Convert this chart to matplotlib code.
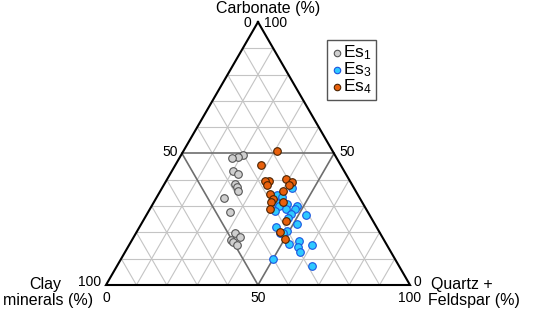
import numpy as np
import matplotlib.pyplot as plt

plt.rcParams['font.family'] = ['Liberation Sans', 'DejaVu Sans']
plt.rcParams['mathtext.fontset'] = 'custom'
plt.rcParams['mathtext.rm'] = 'Liberation Sans'
plt.rcParams['mathtext.default'] = 'regular'

# carbonate (%) and quartz + feldspar (%) for each sample, clay = rest
es1_carb = [49.4, 48.6, 48.4, 43.3, 42.2, 38.3, 37.1, 35.9, 33.1, 27.8, 19.9, 18.1, 17.1, 16.3, 15.3]
es1_qf = [20.3, 19.1, 17.3, 20.2, 22.4, 23.2, 24.4, 25.5, 22.3, 27.0, 32.5, 34.9, 32.5, 33.7, 35.5]

es3_carb = [34.1, 33.6, 37.0, 31.3, 30.0, 30.7, 30.2, 28.9, 28.9, 28.0, 27.1, 26.7, 25.6,
            23.1, 22.2, 20.4, 19.9, 19.7, 15.7, 16.6, 14.6, 15.2, 12.4, 9.9, 7.3]
es3_qf = [39.2, 41.2, 42.8, 40.6, 41.8, 44.3, 47.6, 47.7, 44.8, 41.7, 47.4, 52.6, 47.0,
          51.4, 44.8, 49.2, 47.3, 48.3, 52.2, 55.3, 56.0, 60.1, 57.6, 50.1, 64.1]

es4_carb = [50.8, 45.7, 39.7, 39.5, 37.9, 40.4, 39.2, 38.1, 34.6, 35.9, 32.8, 31.6, 31.6,
            28.8, 24.3, 20.2, 17.4]
es4_qf = [30.8, 28.0, 33.9, 32.6, 34.1, 39.0, 41.6, 41.2, 36.6, 40.2, 38.4, 38.4, 42.5,
          39.5, 47.0, 47.2, 50.3]

H3 = np.sqrt(3) / 2


def tern(carb, qf):
    carb = np.asarray(carb, dtype=float) / 100
    qf = np.asarray(qf, dtype=float) / 100
    return qf + carb / 2, carb * H3


W, H = 533, 311
fig = plt.figure(figsize=(W / 100, H / 100), dpi=100)
ax = fig.add_axes([106 / W, (H - 285) / H, 304 / W, 263 / H])
ax.set_xlim(0, 1)
ax.set_ylim(0, H3)
ax.axis('off')

# grid
for v in range(10, 100, 10):
    col, lw, z = ('#c4c4c4', 0.8, 1) if v != 50 else ('#6e6e6e', 1.2, 2)
    for a, b in [((v, 0), (v, 100 - v)), ((0, v), (100 - v, v)), ((0, 100 - v), (100 - v, 0))]:
        x, y = tern([a[0], b[0]], [a[1], b[1]])
        ax.plot(x, y, color=col, lw=lw, zorder=z)

x, y = tern([100, 0, 0, 100], [0, 0, 100, 0])
ax.plot(x, y, color='black', lw=1.5, zorder=3, clip_on=False, solid_joinstyle='miter')

kw = dict(s=30, linewidths=0.8, zorder=5, clip_on=False)
x, y = tern(es1_carb, es1_qf)
ax.scatter(x, y, c='#cfcfcf', edgecolors='#555555', label='Es$_1$', **kw)
x, y = tern(es3_carb, es3_qf)
ax.scatter(x, y, c='#2ec9ff', edgecolors='#1a55e0', label='Es$_3$', **kw)
x, y = tern(es4_carb, es4_qf)
ax.scatter(x, y, c='#e8600c', edgecolors='#4a2200', label='Es$_4$', **kw)

leg = ax.legend(loc='upper left', bbox_to_anchor=(327 / W, 1 - 40 / H), bbox_transform=fig.transFigure,
                fontsize=12.5, frameon=True, fancybox=False, framealpha=1, edgecolor='#555555',
                borderpad=0.2, handletextpad=0.05, labelspacing=-0.1, handlelength=0.7,
                markerscale=0.85, borderaxespad=0)
leg.get_frame().set_linewidth(1.0)


def txt(px, py, s, size=10, ha='center', va='center'):
    fig.text(px / W, 1 - py / H, s, fontsize=size, ha=ha, va=va)


txt(268, 9, 'Carbonate (%)', 11.5)
txt(251, 23, '0', 10, ha='right')
txt(264, 23, '100', 10, ha='left')
txt(178, 152, '50', 10, ha='right')
txt(339, 152, '50', 10, ha='left')
txt(101, 282, '100', 10, ha='right')
txt(414, 282, '0', 10, ha='left')
txt(106, 298, '0', 10, ha='center')
txt(258, 298, '50', 10, ha='center')
txt(410, 298, '100', 10, ha='center')
txt(45, 284, 'Clay', 11.5)
txt(48, 300, 'minerals (%)', 11.5)
txt(462, 284, 'Quartz +', 11.5)
txt(474, 300, 'Feldspar (%)', 11.5)

fig.savefig('out.png', dpi=100)
